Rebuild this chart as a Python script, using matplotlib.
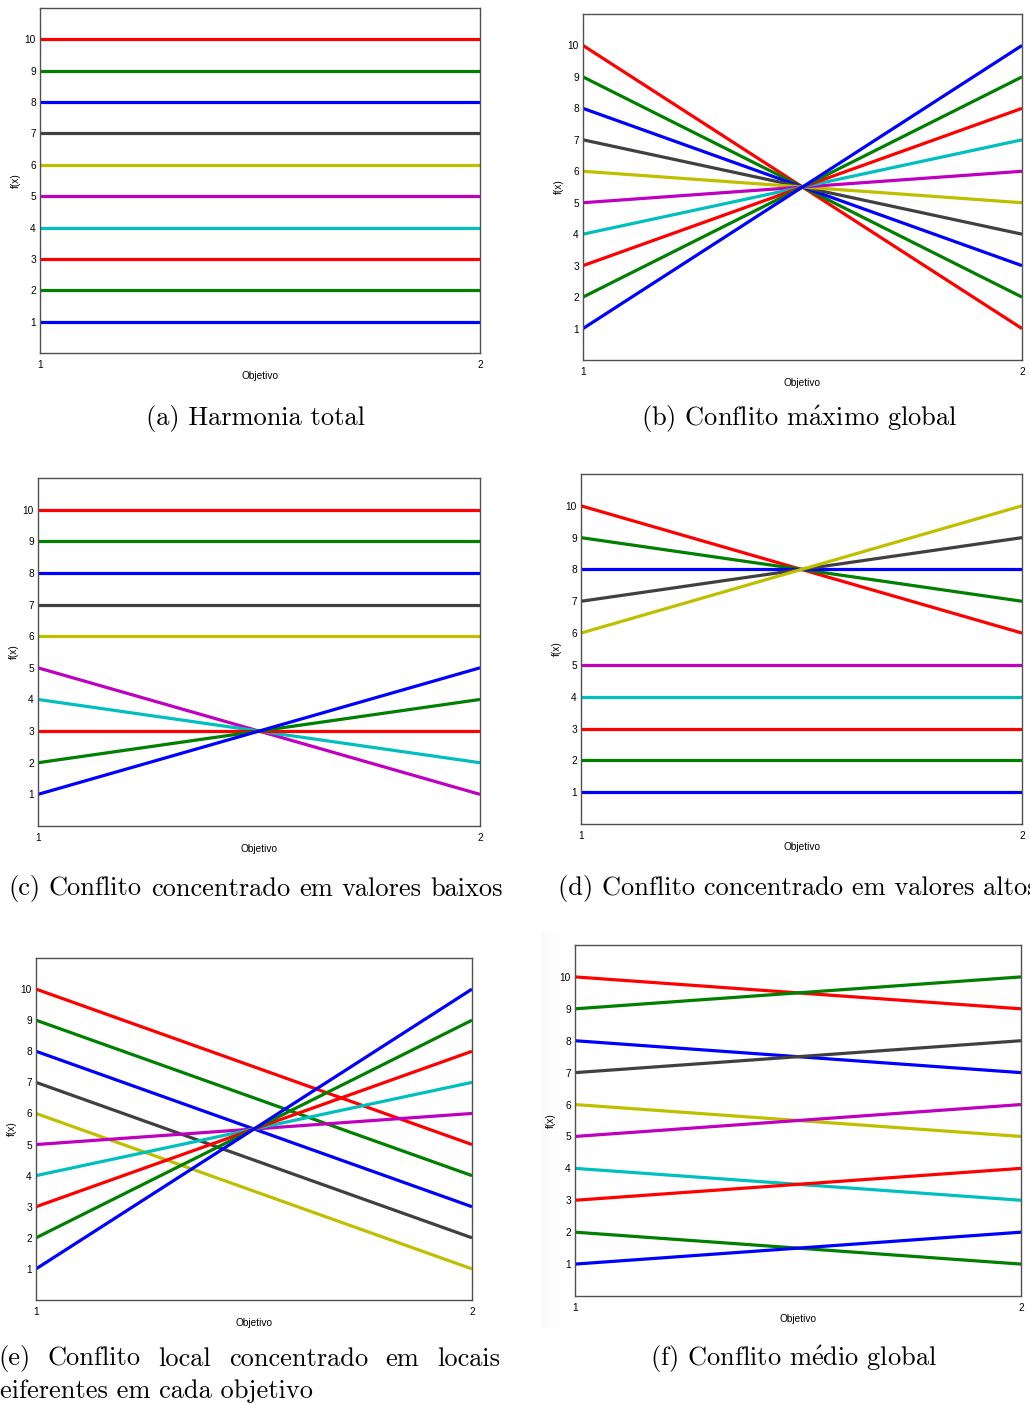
import matplotlib
matplotlib.use("Agg")
import matplotlib.pyplot as plt
import numpy as np

W, H = 1030, 1405

# valores de f(x) em cada objetivo (10 solucoes)
objetivo_1 = [10, 9, 8, 7, 6, 5, 4, 3, 2, 1]
obj2_a = [10, 9, 8, 7, 6, 5, 4, 3, 2, 1]
obj2_b = [1, 2, 3, 4, 5, 6, 7, 8, 9, 10]
obj2_c = [10, 9, 8, 7, 6, 1, 2, 3, 4, 5]
obj2_d = [6, 7, 8, 9, 10, 5, 4, 3, 2, 1]
obj2_e = [5, 4, 3, 2, 1, 6, 7, 8, 9, 10]
obj2_f = [9, 10, 7, 8, 5, 6, 3, 4, 1, 2]
eixo_x = [1, 2]
y_ticks = list(range(1, 11))

cores = ['#ff0000', '#008000', '#0000ff', '#404040', '#bfbf00',
         '#bf00bf', '#00bfbf', '#ff0000', '#008000', '#0000ff']

# (esquerda, direita, topo, base) em pixels
caixas = {
    'a': (40, 480, 8, 353),
    'b': (583, 1022, 14, 360),
    'c': (38, 480, 478, 826),
    'd': (581, 1022, 474, 824),
    'e': (36, 472, 958, 1300),
    'f': (575, 1021, 945, 1296),
}
dados = {'a': obj2_a, 'b': obj2_b, 'c': obj2_c,
         'd': obj2_d, 'e': obj2_e, 'f': obj2_f}

plt.rcParams['mathtext.fontset'] = 'cm'
fig = plt.figure(figsize=(W / 100, H / 100), dpi=100)
fs_small = 7.3
sans = 'Liberation Sans'

# sombra cinza suave a esquerda do painel (f)
sombra = fig.add_axes([541 / W, 1 - 1328 / H, 22 / W, 396 / H])
sombra.imshow(np.linspace(0.045, 0.0, 50)[None, :], aspect='auto',
              cmap='Greys', vmin=0, vmax=1, interpolation='bilinear')
sombra.axis('off')

for k, (l, r, t, b) in caixas.items():
    ax = fig.add_axes([l / W, 1 - b / H, (r - l) / W, (b - t) / H])
    for y1, y2, c in zip(objetivo_1, dados[k], cores):
        ax.plot(eixo_x, [y1, y2], color=c, lw=2.3, solid_capstyle='butt')
    ax.set_xlim(1, 2)
    ax.set_ylim(0, 11)
    ax.set_xticks(eixo_x)
    ax.set_yticks(y_ticks)
    ax.tick_params(length=0, labelsize=fs_small, pad=3)
    for lab in ax.get_xticklabels() + ax.get_yticklabels():
        lab.set_family(sans)
    ax.xaxis.set_tick_params(pad=5)
    for s in ax.spines.values():
        s.set_color('#505050')
        s.set_linewidth(1.0)
    ax.set_xlabel('Objetivo', fontsize=fs_small, family=sans, labelpad=1)
    ax.set_ylabel('f(x)', fontsize=fs_small, family=sans, labelpad=3)

serif = 'cmr10'
fs_cap = 19


def legenda(txt, x, y, ha='center'):
    fig.text(x / W, 1 - y / H, txt, ha=ha, va='center', fontsize=fs_cap,
             family=serif)


def justificado(txt, x0, x1, y):
    palavras = txt.split(' ')
    textos = [fig.text(0, 1 - y / H, p, ha='left', va='center',
                       fontsize=fs_cap, family=serif) for p in palavras]
    rend = fig.canvas.get_renderer()
    larg = [tx.get_window_extent(rend).width for tx in textos]
    gap = (x1 - x0 - sum(larg)) / (len(palavras) - 1)
    x = x0
    for tx, w in zip(textos, larg):
        tx.set_x(x / W)
        x += w + gap


legenda(r'(a) Harmonia total', 256, 419)
legenda(r'(b) Conflito m$\acute{\mathrm{a}}$ximo global', 799, 419)
justificado('(c) Conflito concentrado em valores baixos', 8, 503, 889)
legenda('(d) Conflito concentrado em valores altos', 558, 889, ha='left')
justificado('(e) Conflito local concentrado em locais', -2, 500, 1359)
legenda('eiferentes em cada objetivo', 0, 1391, ha='left')
legenda(r'(f) Conflito m$\acute{\mathrm{e}}$dio global', 794, 1359)

fig.savefig('out.png', dpi=100)
